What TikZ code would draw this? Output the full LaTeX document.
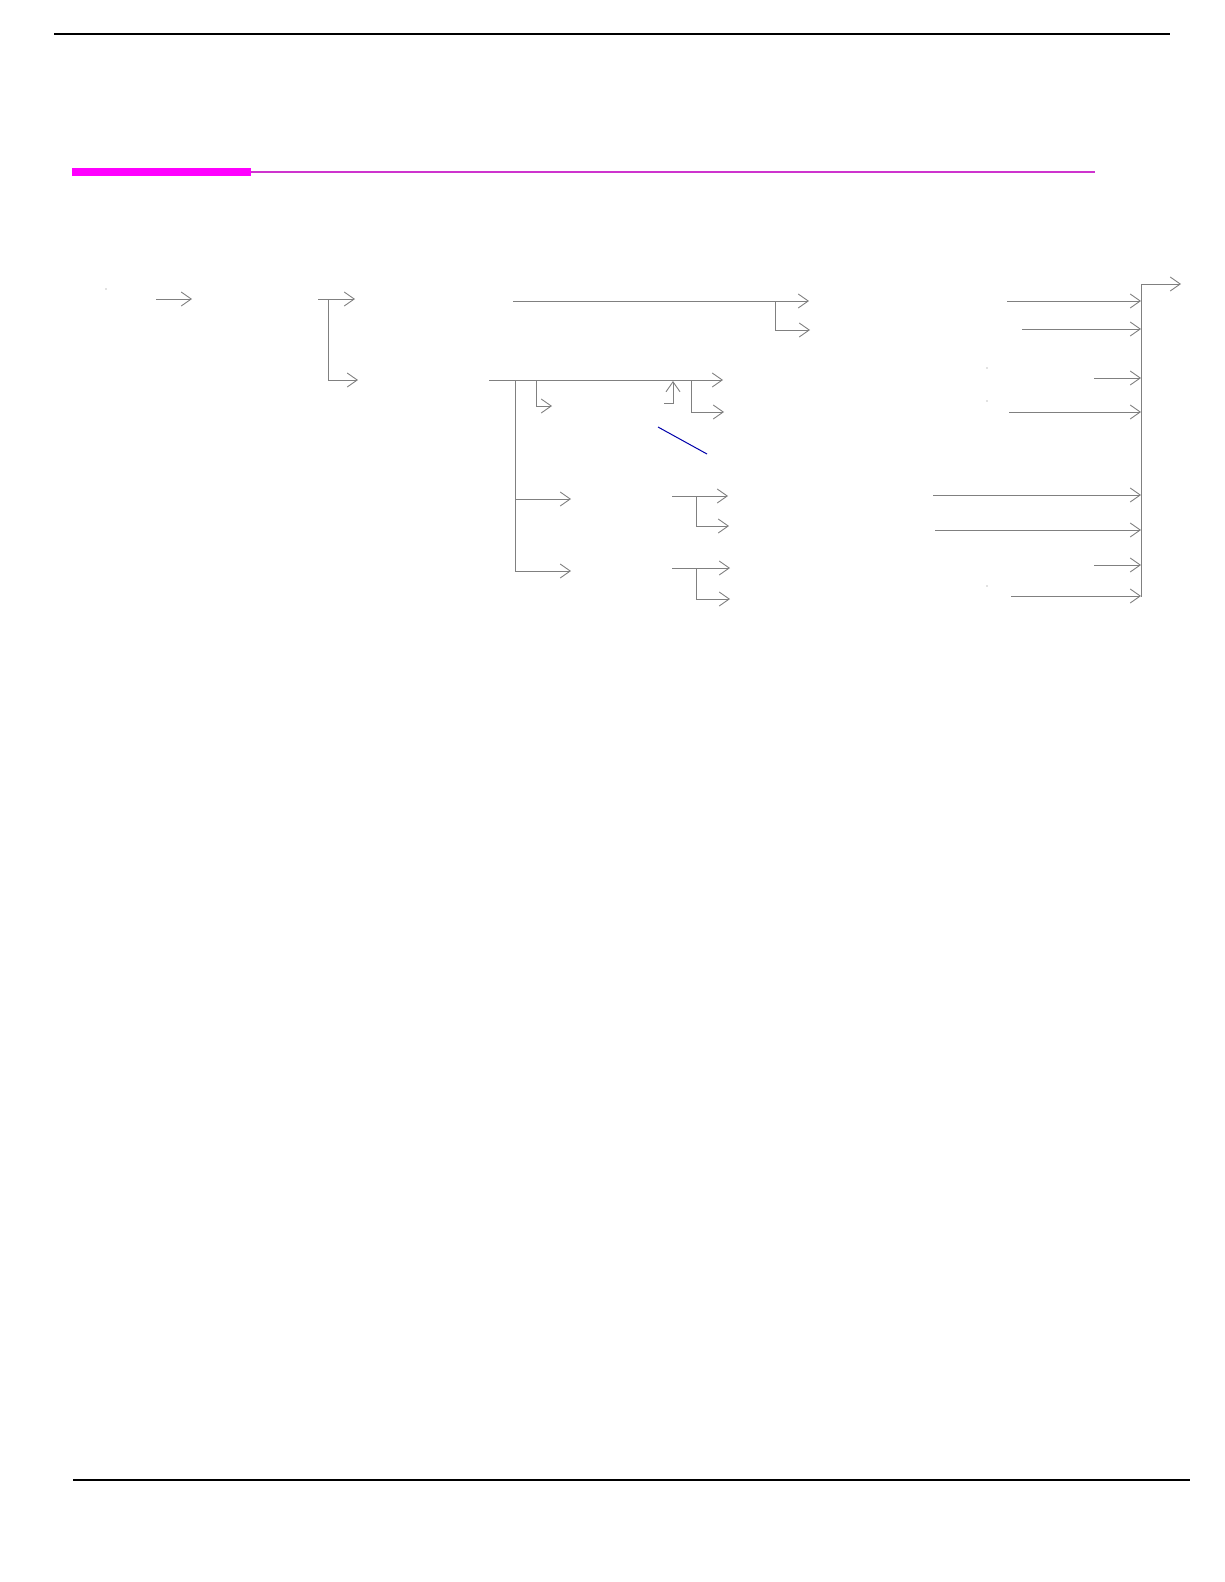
\documentclass[tikz,border=0pt]{standalone}
\usetikzlibrary{arrows.meta,calc}
\definecolor{wire}{RGB}{128,128,128}
\definecolor{bar}{RGB}{255,0,255}
\definecolor{barline}{RGB}{206,52,206}
\definecolor{slash}{RGB}{0,0,170}

\begin{document}
\begin{tikzpicture}[x=1pt,y=-1pt,
    wireline/.style={draw=wire,line width=0.9pt},
    flow/.style={wireline,-{Straight Barb[length=10pt,width=14pt]}}]
        \useasboundingbox (0,0) rectangle (1224,1582);
        % page rules
        \draw[line width=1.3pt] (54,34) -- (1170,34);
        \fill[bar] (72,168) rectangle (251,176);
        \draw[barline,line width=2.4pt] (251,172) -- (1095,172);
        \draw[line width=1.3pt] (73,1480) -- (1190,1480);
        % stray marks
        \foreach \px/\py in {106/289, 987/368, 987/401, 987/586}
            \fill[wire] (\px,\py) circle (0.6);
        % first stage
        \coordinate (in) at (156,299);
        \coordinate (inend) at (192,299);
        \draw[flow] (in) -- (inend);
        \coordinate (split) at (318,299);
        \coordinate (splitj) at (328,299);
        \coordinate (upper) at (355,299);
        \coordinate (lower) at (358,380);
        \draw[flow] (split) -- (upper);
        \draw[flow] (splitj) |- (lower);
        % upper path
        \coordinate (top) at (513,301);
        \coordinate (topend) at (809,301);
        \coordinate (topj) at (775,301);
        \coordinate (topbr) at (810,330);
        \draw[flow] (top) -- (topend);
        \draw[flow] (topj) |- (topbr);
        % lower path
        \coordinate (low) at (489,380);
        \coordinate (lowend) at (723,380);
        \coordinate (lowj) at (515,380);
        \coordinate (midA) at (571,499);
        \coordinate (midB) at (571,571);
        \draw[flow] (low) -- (lowend);
        \draw[flow] (lowj) |- (midA);
        \draw[flow] (lowj) |- (midB);
        \coordinate (smallj) at (536,380);
        \coordinate (small) at (552,406);
        \draw[flow] (smallj) |- (small);
        \coordinate (back) at (664,403);
        \coordinate (backend) at (673,381);
        \draw[flow] (back) -| (backend);
        \coordinate (sidej) at (691,380);
        \coordinate (side) at (724,412);
        \draw[flow] (sidej) |- (side);
        \draw[slash,line width=1pt] (658,427) -- (707,454);
        % groups A and B
        \coordinate (gA) at (672,496);
        \coordinate (gAend) at (728,496);
        \coordinate (gAj) at (696,496);
        \coordinate (gAbr) at (729,526);
        \draw[flow] (gA) -- (gAend);
        \draw[flow] (gAj) |- (gAbr);
        \coordinate (gB) at (672,568);
        \coordinate (gBend) at (730,568);
        \coordinate (gBj) at (696,568);
        \coordinate (gBbr) at (730,599);
        \draw[flow] (gB) -- (gBend);
        \draw[flow] (gBj) |- (gBbr);
        % collecting bus
        \coordinate (bus) at (1141,284);
        \coordinate (busend) at (1141,597);
        \coordinate (out) at (1181,284);
        \draw[wireline] (bus) -- (busend);
        \draw[flow] (bus) -- (out);
        \foreach \fx/\fy [count=\i] in {1007/301, 1022/329, 1094/378, 1009/412,
                                        933/495, 935/530, 1094/565, 1011/596} {
            \coordinate (feed\i) at (\fx,\fy);
            \draw[flow] (feed\i) -- (feed\i -| bus);
        }
    \end{tikzpicture}
\end{document}
